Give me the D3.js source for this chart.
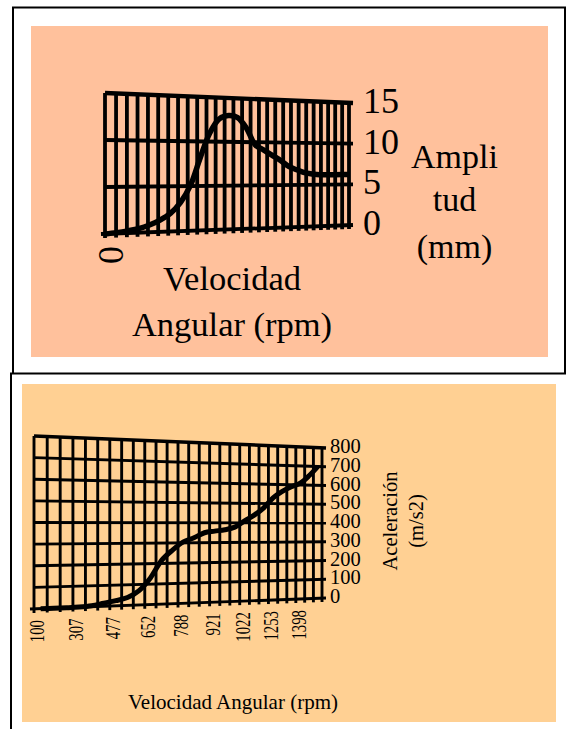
<!DOCTYPE html>
<html><head><meta charset="utf-8">
<script src="https://cdn.jsdelivr.net/npm/d3@7/dist/d3.min.js"></script>
<style>html,body{margin:0;padding:0;background:#fff}svg{display:block}text{font-family:"Liberation Serif",serif;fill:#000}</style>
</head><body><svg id="c" width="566" height="729"></svg>
<script>
const ampValues=[0,0.1,0.25,0.45,0.8,1.3,2,3.2,5.1,8.2,11,12.6,13,12.8,11.6,9.7,9.1,8.5,7.9,7.2,6.8,6.45,6.3,6.2,6.2,6.2,6.2,6.2];
const ampTicks=[0,5,10,15];
const ampCatLabels=["0"];
const accValues=[0,0,0,1,5,15,25,38,70,130,215,265,305,325,350,358,365,378,410,440,478,530,565,590,610,650,700];
const accTicks=[0,100,200,300,400,500,600,700,800];
const accCatLabels=["100","","","307","","","477","","","652","","","788","","","921","","","1022","","","1253","","","1398","",""];

const svg=d3.select("#c");
svg.append("rect").attr("x",31).attr("y",26).attr("width",517).attr("height",331).attr("fill","#FFC19C");
svg.append("rect").attr("x",22).attr("y",384).attr("width",534).attr("height",338).attr("fill","#FFD093");
svg.append("path").attr("d","M13,373V7.5H565V373").attr("fill","none").attr("stroke","#000").attr("stroke-width",2);
svg.append("path").attr("d","M11,729V373.5H566").attr("fill","none").attr("stroke","#000").attr("stroke-width",2);

function skewChart(o){
  const g=svg.append("g");
  const n=o.values.length;
  const persp=t=>t/(t+o.k*(1-t));
  const px=d3.scaleLinear().domain([0,1]).range([o.x0,o.x1]);
  const vFrac=d3.scaleLinear().domain([0,o.max]).range([0,1]);
  const left=d3.scaleLinear().domain([0,1]).range([o.yl0,o.yl1]);
  const right=d3.scaleLinear().domain([0,1]).range([o.yr0,o.yr1]);
  const pt=(t,v)=>{const f=persp(t),w=vFrac(v);return [px(f),left(w)*(1-f)+right(w)*f];};
  const line=d3.line();
  const gl=(a,b)=>g.append("path").attr("d",line([a,b])).attr("fill","none").attr("stroke","#000");
  for(let i=0;i<=n;i++){
    gl(pt(i/n,0),pt(i/n,o.max)).attr("stroke-width",o.sw);
    const p=pt(i/n,0);
    gl(p,[p[0],p[1]+o.tl]).attr("stroke-width",o.sw);
  }
  o.ticks.forEach(v=>{
    const a=pt(0,v),b=pt(1,v);
    gl([a[0]-(v===0?o.tl:0),a[1]],[b[0]+o.tl,b[1]]).attr("stroke-width",v===o.max?o.sw+0.6:o.sw);
  });
  const curve=d3.line().curve(d3.curveCatmullRom.alpha(0.5));
  const pts=o.values.map((v,i)=>pt(o.centered?(i+0.5)/n:i/(n-1),v));
  g.append("path").attr("d",curve(pts)).attr("fill","none").attr("stroke","#000").attr("stroke-width",o.lw).attr("stroke-linejoin","round");
  return {pt};
}

const a=skewChart({values:ampValues,ticks:ampTicks,max:15,k:0.78,x0:105,x1:349,yl0:234,yl1:93,yr0:225,yr1:103,sw:3.8,tl:4,lw:5.5,centered:false});
svg.append("g").attr("font-size",36).selectAll("text").data(ampTicks).join("text").text(d=>d)
  .attr("x",d=>a.pt(1,d)[0]+14).attr("y",d=>a.pt(1,d)[1]+10);
const p0=a.pt(0,0);
svg.append("text").text(ampCatLabels[0]).attr("font-size",36)
  .attr("transform",`translate(${p0[0]+18},${p0[1]+30}) rotate(-90)`);
[["Velocidad",232,290],["Angular (rpm)",232,336]].forEach(d=>svg.append("text").text(d[0]).attr("x",d[1]).attr("y",d[2]).attr("font-size",34.5).attr("text-anchor","middle"));
[["Ampli",454.5,168],["tud",454.5,211],["(mm)",454.5,258]].forEach(d=>svg.append("text").text(d[0]).attr("x",d[1]).attr("y",d[2]).attr("font-size",34).attr("text-anchor","middle"));

const b=skewChart({values:accValues,ticks:accTicks,max:800,k:0.8,x0:34,x1:322,yl0:609,yl1:436,yr0:598,yr1:448,sw:2.9,tl:4,lw:5,centered:true});
svg.append("g").attr("font-size",20.5).selectAll("text").data(accTicks).join("text").text(d=>d)
  .attr("x",330).attr("y",d=>b.pt(1,d)[1]+5);
accCatLabels.forEach((l,i)=>{ if(!l) return;
  const p=b.pt(i/accValues.length,0);
  svg.append("text").text(l).attr("font-size",20).attr("text-anchor","end")
   .attr("transform",`translate(${p[0]+10},${p[1]+11}) rotate(-90) scale(0.74,1)`);
});
svg.append("text").text("Velocidad Angular (rpm)").attr("x",233).attr("y",709).attr("font-size",21).attr("text-anchor","middle");
svg.append("text").text("Aceleración").attr("font-size",20.5).attr("text-anchor","middle").attr("transform","translate(397,521) rotate(-90)");
svg.append("text").text("(m/s2)").attr("font-size",20.5).attr("text-anchor","middle").attr("transform","translate(423,521) rotate(-90)");
</script></body></html>
